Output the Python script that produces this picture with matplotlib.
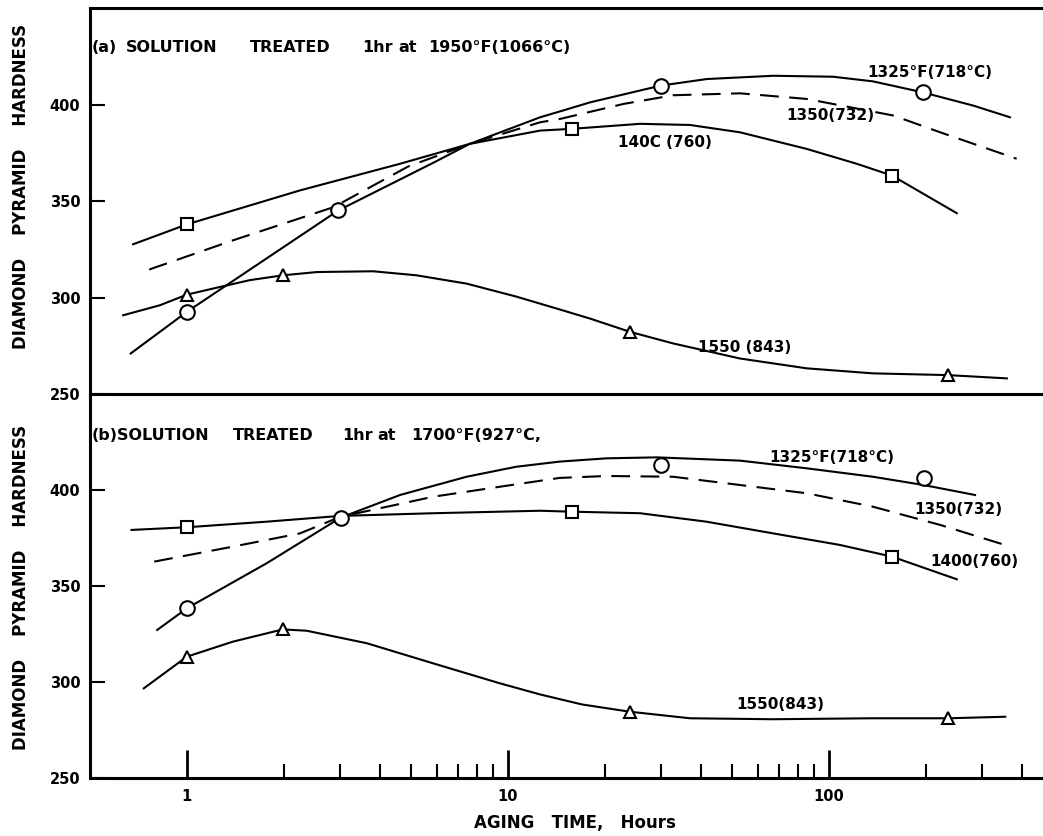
import numpy as np
import matplotlib
matplotlib.use("Agg")
import matplotlib.pyplot as plt
from matplotlib.ticker import FixedLocator, NullFormatter

# ---- data (hours, DPH hardness) ----
# (a) solution treated 1 hr at 1950F
a_1325_curve_t = [0.668, 1, 1.69, 2.96, 5.85, 7.6, 12.6, 14.5, 18, 29.9, 41.6, 67, 103, 137, 196, 282, 366]
a_1325_curve_h = [271, 292.6, 318, 345.1, 369.8, 379.6, 393.4, 396.4, 401.1, 409.8, 413.2, 414.9, 414.4, 412, 406.3, 399.4, 393.4]
a_1350_curve_t = [0.763, 1.39, 2.86, 4.89, 7.6, 12.6, 14.5, 22.9, 32.7, 52.8, 85.2, 158.6, 222, 384]
a_1350_curve_h = [314.5, 329.6, 346.8, 367.9, 379.6, 390.8, 392.5, 400.3, 404.8, 405.8, 402.9, 394.3, 385.6, 371.9]
a_1400_curve_t = [0.68, 1, 2.25, 4.61, 7.6, 12.6, 15.8, 25.8, 36.9, 52.8, 85.2, 122, 157, 250]
a_1400_curve_h = [327.6, 337.9, 355.5, 369.3, 379.6, 386.5, 387.4, 390, 389.4, 385.6, 377, 369.3, 363.2, 343.7]
a_1550_curve_t = [0.633, 0.824, 1, 1.27, 1.57, 1.99, 2.54, 3.8, 5.19, 7.43, 10.6, 14.5, 18, 24, 32.7, 52.8, 85.2, 137, 234, 358]
a_1550_curve_h = [290.8, 296, 301.5, 305.5, 309, 311.5, 313.2, 313.6, 311.5, 307.2, 300.5, 293.8, 289.1, 282.2, 276.2, 268.4, 263.3, 260.7, 259.8, 258.1]

a_1325_pts_t = [1, 2.96, 29.9, 196]
a_1325_pts_h = [292.6, 345.1, 409.8, 406.3]
a_1400_pts_t = [1, 15.8, 157]
a_1400_pts_h = [337.9, 387.4, 363.2]
a_1550_pts_t = [1, 1.99, 24, 234]
a_1550_pts_h = [301.5, 311.5, 282.2, 259.8]

# (b) solution treated 1 hr at 1700F
b_1325_curve_t = [0.808, 1, 1.77, 3.01, 4.61, 7.43, 10.6, 14.5, 20.3, 29.1, 52.8, 85.2, 137, 197, 285]
b_1325_curve_h = [327.1, 338.4, 361.8, 385.6, 397.4, 406.9, 412.1, 414.8, 416.5, 417, 415.3, 411.3, 406.9, 402.6, 397.4]
b_1350_curve_t = [0.791, 1.39, 2.25, 3, 5.85, 9.44, 14.5, 20.3, 32.7, 52.8, 85.2, 137, 222, 345]
b_1350_curve_h = [362.7, 370.5, 377.4, 386, 396.5, 401.7, 406.3, 407.3, 406.9, 402.6, 398.3, 391.3, 381.8, 371.9]
b_1400_curve_t = [0.672, 1, 1.77, 3, 5.85, 12.6, 15.8, 25.8, 41.5, 67, 108, 157, 250]
b_1400_curve_h = [379.2, 380.6, 383.5, 386.5, 387.9, 389.2, 388.7, 387.9, 383.5, 377.4, 371.4, 365.3, 353.5]
b_1550_curve_t = [0.734, 1, 1.39, 1.99, 2.36, 3.63, 5.85, 9.44, 12.6, 17, 24, 36.9, 67, 137, 235, 354]
b_1550_curve_h = [296.7, 313.2, 321, 327.4, 326.7, 320.2, 309.7, 299.3, 293.5, 288.3, 284.5, 281.1, 280.6, 281.1, 281.1, 281.9]

b_1325_pts_t = [1, 3.01, 29.9, 198]
b_1325_pts_h = [338.4, 385.6, 413, 406.1]
b_1400_pts_t = [1, 15.8, 157]
b_1400_pts_h = [380.6, 388.7, 365.3]
b_1550_pts_t = [1, 1.99, 24, 235]
b_1550_pts_h = [313.2, 327.4, 284.5, 281.1]

y_ticks = [250, 300, 350, 400]
x_major = [1, 10, 100]
x_minor = [2, 3, 4, 5, 6, 7, 8, 9, 20, 30, 40, 50, 60, 70, 80, 90, 200, 300, 400]

title_a_words = ['(a)', 'SOLUTION', 'TREATED', '1hr', 'at', '1950°F(1066°C)']
title_b_words = ['(b)SOLUTION', 'TREATED', '1hr', 'at', '1700°F(927°C,']

plt.rcParams['font.family'] = ['DejaVu Sans']
plt.rcParams['font.weight'] = 'bold'

fig = plt.figure(figsize=(10.43, 8.36), dpi=100)
ax_a = fig.add_axes([0.0863, 0.5287, 0.9137, 0.4617])
ax_b = fig.add_axes([0.0863, 0.0694, 0.9137, 0.4593])
ax_b.set_facecolor('none')

LW = 1.5
mk = dict(mfc='white', mec='black', mew=1.5, ls='none', zorder=3)
dash = (9, 5)


def panel(ax, c1325, c1350, c1400, c1550, p1325, p1400, p1550, ylab_y):
    ax.plot(*c1325, color='black', lw=LW)
    ax.plot(*c1350, color='black', lw=LW, dashes=dash)
    ax.plot(*c1400, color='black', lw=LW)
    ax.plot(*c1550, color='black', lw=LW)
    ax.plot(*p1325, marker='o', ms=10.5, **mk)
    ax.plot(*p1400, marker='s', ms=8.5, **mk)
    ax.plot(*p1550, marker='^', ms=9, **mk)
    ax.set_xscale('log')
    ax.set_xlim(0.499, 464)
    ax.set_ylim(250, 450)
    ax.yaxis.set_major_locator(FixedLocator(y_ticks))
    ax.tick_params(axis='y', direction='in', length=11, width=1.5,
                   pad=7, labelsize=10.5)
    for lab in ax.get_yticklabels():
        lab.set_fontweight('bold')
    ax.spines['right'].set_visible(False)
    for s in ('left', 'bottom', 'top'):
        ax.spines[s].set_linewidth(2.2)
    ax.set_ylabel('DIAMOND    PYRAMID    HARDNESS', fontsize=12,
                  fontweight='bold')
    ax.yaxis.set_label_coords(-0.063, ylab_y)


def title(ax, words, xs_px, y):
    for w, px in zip(words, xs_px):
        ax.text((px - 90) / 953, y, w, transform=ax.transAxes, fontsize=11.5,
                fontweight='bold', va='center', ha='left')


panel(ax_a, (a_1325_curve_t, a_1325_curve_h), (a_1350_curve_t, a_1350_curve_h),
      (a_1400_curve_t, a_1400_curve_h), (a_1550_curve_t, a_1550_curve_h),
      (a_1325_pts_t, a_1325_pts_h), (a_1400_pts_t, a_1400_pts_h),
      (a_1550_pts_t, a_1550_pts_h), 0.539)
panel(ax_b, (b_1325_curve_t, b_1325_curve_h), (b_1350_curve_t, b_1350_curve_h),
      (b_1400_curve_t, b_1400_curve_h), (b_1550_curve_t, b_1550_curve_h),
      (b_1325_pts_t, b_1325_pts_h), (b_1400_pts_t, b_1400_pts_h),
      (b_1550_pts_t, b_1550_pts_h), 0.497)

# upper panel: no x ticks
ax_a.tick_params(axis='x', which='both', bottom=False, top=False,
                 labelbottom=False)
ax_b.spines['top'].set_visible(False)

ax_b.xaxis.set_major_locator(FixedLocator(x_major))
ax_b.xaxis.set_minor_locator(FixedLocator(x_minor))
ax_b.xaxis.set_minor_formatter(NullFormatter())
ax_b.set_xticklabels(['1', '10', '100'], fontweight='bold')
ax_b.tick_params(axis='x', which='major', direction='in', length=20,
                 width=2, pad=8, labelsize=10.5)
ax_b.tick_params(axis='x', which='minor', direction='in', length=10, width=1.5)
ax_b.set_xlabel('AGING   TIME,   Hours', fontsize=12, fontweight='bold')
ax_b.xaxis.set_label_coords(0.509, -0.094)

title(ax_a, title_a_words, [92, 126, 250, 362, 398, 428], 0.899)
title(ax_b, title_b_words, [92, 233, 342, 377, 411], 0.893)

lab = dict(fontsize=11, fontweight='bold', ha='center', va='center')
ax_a.text(206, 416.5, '1325°F(718°C)', **lab)
ax_a.text(101, 394.3, '1350(732)', **lab)
ax_a.text(30.8, 380.3, '140C (760)', **lab)
ax_a.text(54.7, 274.3, '1550 (843)', **lab)
ax_b.text(102, 416.7, '1325°F(718°C)', **lab)
ax_b.text(252, 390.1, '1350(732)', **lab)
ax_b.text(283, 362.5, '1400(760)', **lab)
ax_b.text(70.3, 288.5, '1550(843)', **lab)

fig.savefig('out.png', dpi=100)
